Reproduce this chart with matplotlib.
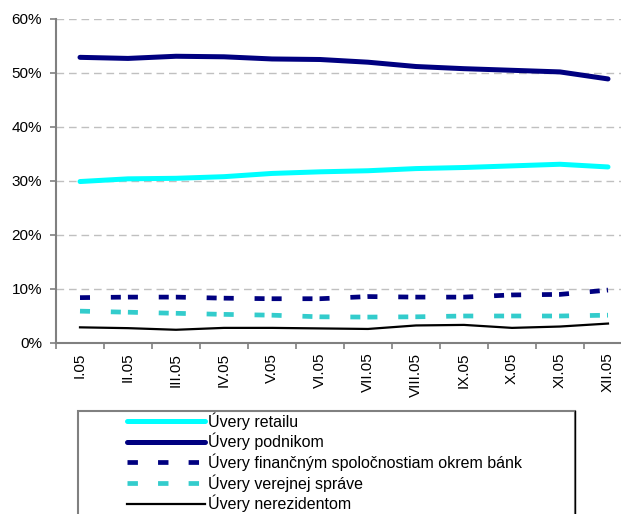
import matplotlib
matplotlib.use('Agg')
import matplotlib.pyplot as plt
from matplotlib.lines import Line2D
from matplotlib.patches import Rectangle
from matplotlib.ticker import FuncFormatter, FixedLocator

plt.rcParams['font.family'] = ['Liberation Sans', 'DejaVu Sans']
plt.rcParams['font.size'] = 11
plt.rcParams['lines.scale_dashes'] = False

# data (percent)
months = ['I.05', 'II.05', 'III.05', 'IV.05', 'V.05', 'VI.05',
          'VII.05', 'VIII.05', 'IX.05', 'X.05', 'XI.05', 'XII.05']
retail = [29.9, 30.4, 30.5, 30.8, 31.4, 31.7, 31.9, 32.3, 32.5, 32.8, 33.1, 32.6]
podniky = [52.9, 52.7, 53.1, 53.0, 52.6, 52.5, 52.0, 51.2, 50.8, 50.5, 50.2, 48.9]
financne = [8.4, 8.5, 8.5, 8.3, 8.2, 8.2, 8.6, 8.5, 8.5, 8.9, 9.0, 9.8]
verejna = [5.9, 5.7, 5.5, 5.3, 5.15, 4.85, 4.8, 4.85, 5.0, 5.0, 5.0, 5.15]
nerezidenti = [2.9, 2.75, 2.45, 2.8, 2.8, 2.7, 2.6, 3.25, 3.35, 2.8, 3.05, 3.6]

labels = ['Úvery retailu', 'Úvery podnikom',
          'Úvery finančným spoločnostiam okrem bánk',
          'Úvery verejnej správe', 'Úvery nerezidentom']

W, H = 621, 514
fig = plt.figure(figsize=(W / 100, H / 100), dpi=100)
ax = fig.add_axes([56 / W, 1 - 343 / H, 576 / W, 324 / H])

x = list(range(len(months)))
seg_dash = (7.2, 15.0, 7.2, 5.1)

ax.plot(x, retail, color='#00FFFF', lw=3.6, solid_capstyle='round', zorder=3)
ax.plot(x, podniky, color='#000080', lw=3.6, solid_capstyle='round', zorder=3)
ax.plot(x, financne, color='#000080', lw=3.4, dashes=seg_dash,
        dash_capstyle='butt', zorder=3)
ax.plot(x, verejna, color='#33CCCC', lw=3.4, dashes=seg_dash,
        dash_capstyle='butt', zorder=3)
ax.plot(x, nerezidenti, color='black', lw=1.6, zorder=3)

ax.set_xlim(-0.5, len(months) - 0.5)
ax.set_ylim(0, 60)
ax.set_yticks(range(0, 61, 10))
ax.yaxis.set_major_formatter(FuncFormatter(lambda v, p: '%d%%' % v))
ax.yaxis.grid(True, color='#C0C0C0', lw=1, dashes=(5.5, 3.5))
ax.set_axisbelow(True)

ax.set_xticks(x)
ax.set_xticklabels(months, rotation=90, va='top')
ax.xaxis.set_minor_locator(FixedLocator([i - 0.5 for i in range(len(months) + 1)]))
ax.tick_params(axis='x', which='major', length=0, pad=7)
ax.tick_params(axis='x', which='minor', length=4, width=1.2, color='#808080')
ax.tick_params(axis='y', length=4, width=1.2, color='#808080', pad=6)
ax.tick_params(labelsize=11, labelcolor='black')

for s in ['top', 'right']:
    ax.spines[s].set_visible(False)
for s in ['left', 'bottom']:
    ax.spines[s].set_color('#808080')
    ax.spines[s].set_linewidth(1.5)

# legend frame
leg_dash = (7.5, 14.5)
handles = [
    Line2D([], [], color='#00FFFF', lw=3.6, solid_capstyle='round'),
    Line2D([], [], color='#000080', lw=3.6, solid_capstyle='round'),
    Line2D([], [], color='#000080', lw=3.4, dashes=leg_dash, dash_capstyle='butt'),
    Line2D([], [], color='#33CCCC', lw=3.4, dashes=leg_dash, dash_capstyle='butt'),
    Line2D([], [], color='black', lw=1.6),
]
fig.legend(handles, labels, loc='upper left',
           bbox_to_anchor=(127 / W, 1 - 412 / H), frameon=False,
           borderpad=0, borderaxespad=0, handlelength=4.9,
           handletextpad=0.15, labelspacing=0.2, fontsize=11.5)

fig.add_artist(Rectangle((78 / W, -0.1), (575 - 78) / W, (1 - 411 / H) + 0.1,
                         transform=fig.transFigure, fill=False,
                         edgecolor='#808080', lw=1.5))
fig.add_artist(Line2D([575 / W, 575 / W], [-0.1, 1 - 411 / H],
                      transform=fig.transFigure, color='black', lw=1))

fig.savefig('out.png', dpi=100)
